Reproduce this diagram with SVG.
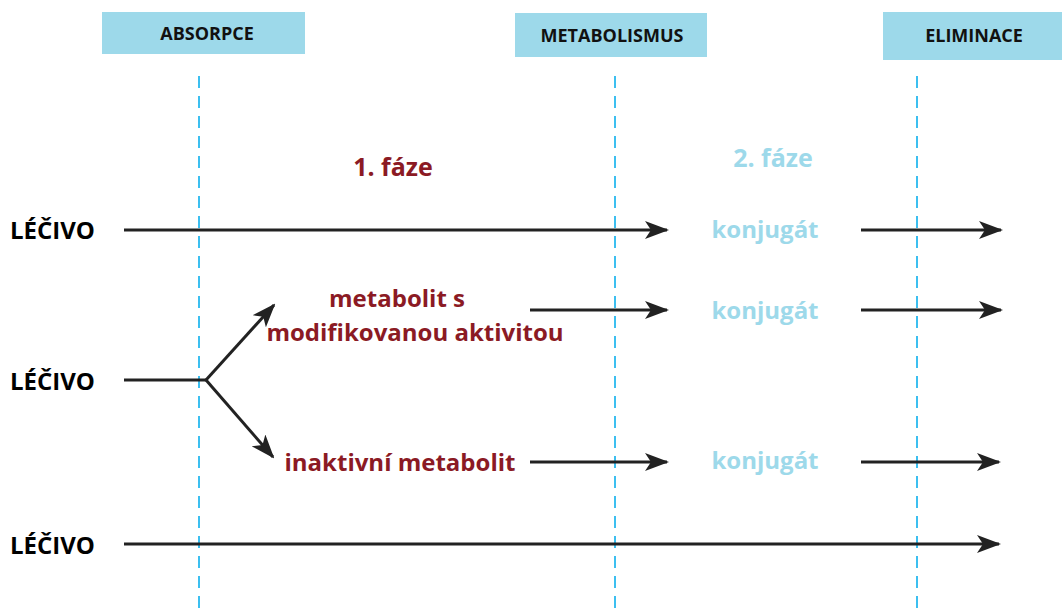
<svg xmlns="http://www.w3.org/2000/svg" width="1062" height="609" viewBox="0 0 1062 609">
<style>
.hdr{fill:#9dd9ea}
.ht{font-family:"Open Sans","Liberation Sans",sans-serif;font-weight:bold;font-size:18px;fill:#111;text-anchor:middle}
.lec{font-family:"Open Sans","Liberation Sans",sans-serif;font-weight:bold;font-size:24px;fill:#000}
.red{font-family:"Open Sans","Liberation Sans",sans-serif;font-weight:bold;font-size:24px;fill:#8b1a24;text-anchor:middle}
.blue{font-family:"Open Sans","Liberation Sans",sans-serif;font-weight:bold;font-size:24px;fill:#9dd9ea;text-anchor:middle}
.fz{font-size:25px}
.dash{stroke:#3cbff0;stroke-width:2;stroke-dasharray:12 8;fill:none}
.ar{stroke:#222;stroke-width:3;fill:none;marker-end:url(#ah)}
.ln{stroke:#222;stroke-width:3;fill:none}
</style>
<defs>
<marker id="ah" markerUnits="userSpaceOnUse" markerWidth="24" markerHeight="18" viewBox="0 0 24 18" refX="22" refY="9" orient="auto">
<path d="M0,0 L24,9 L0,18 L6,9 z" fill="#222"/>
</marker>
</defs>
<rect width="1062" height="609" fill="#fff"/>
<g id="guides">
<line class="dash" x1="199" y1="76" x2="199" y2="609"/>
<line class="dash" x1="615" y1="76" x2="615" y2="609"/>
<line class="dash" x1="917" y1="76" x2="917" y2="609"/>
</g>
<g id="absorpce"><rect class="hdr" x="102" y="12" width="203" height="42"/><text class="ht" x="207" y="40">ABSORPCE</text></g>
<g id="metabolismus"><rect class="hdr" x="515" y="13" width="192" height="44"/><text class="ht" x="612" y="42" font-size="19">METABOLISMUS</text></g>
<g id="eliminace"><rect class="hdr" x="883" y="12" width="179" height="48"/><text class="ht" x="974" y="42">ELIMINACE</text></g>
<g id="faze1"><text class="red fz" x="393" y="176">1. fáze</text></g>
<g id="faze2"><text class="blue fz" x="773" y="167">2. fáze</text></g>
<g id="lecivo1"><text class="lec" x="10" y="239">LÉČIVO</text></g>
<g id="lecivo2"><text class="lec" x="10" y="390">LÉČIVO</text></g>
<g id="lecivo3"><text class="lec" x="10" y="554">LÉČIVO</text></g>
<g id="metabolit-mod"><text class="red" x="397" y="307">metabolit s</text><text class="red" x="415" y="341">modifikovanou aktivitou</text></g>
<g id="inaktivni"><text class="red" x="400" y="471">inaktivní metabolit</text></g>
<g id="konjugat1"><text class="blue" x="765" y="238">konjugát</text></g>
<g id="konjugat2"><text class="blue" x="765" y="319">konjugát</text></g>
<g id="konjugat3"><text class="blue" x="765" y="469">konjugát</text></g>
<g id="connectors">
<line class="ar" x1="124" y1="230" x2="667" y2="230"/>
<line class="ar" x1="861" y1="230" x2="1001" y2="230"/>
<line class="ar" x1="530" y1="310" x2="667" y2="310"/>
<line class="ar" x1="861" y1="310" x2="1001" y2="310"/>
<line class="ln" x1="124" y1="380" x2="206" y2="380"/>
<line class="ar" x1="206" y1="380" x2="274" y2="305"/>
<line class="ar" x1="206" y1="380" x2="273" y2="457"/>
<line class="ar" x1="530" y1="462" x2="667" y2="462"/>
<line class="ar" x1="861" y1="462" x2="999" y2="462"/>
<line class="ar" x1="124" y1="544" x2="999" y2="544"/>
</g>
</svg>
